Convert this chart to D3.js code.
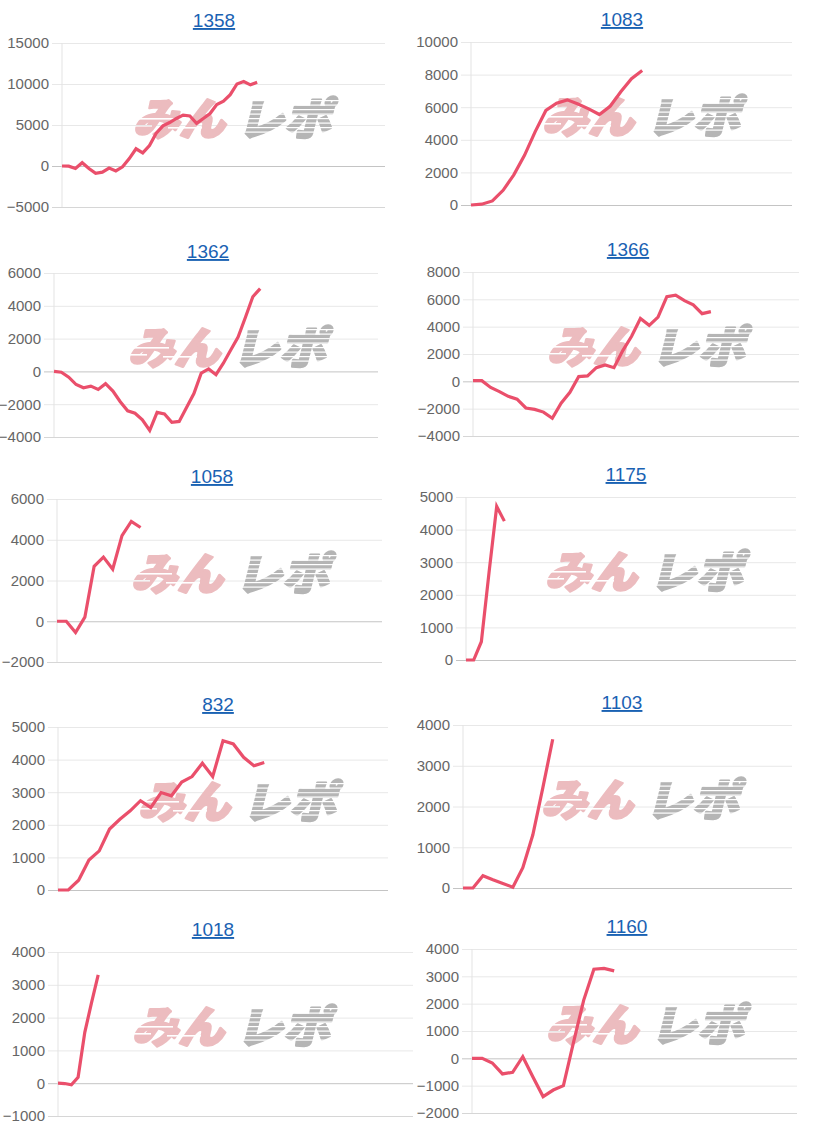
<!DOCTYPE html>
<html><head><meta charset="utf-8">
<script src="https://cdn.jsdelivr.net/npm/d3@7"></script>
<style>body{margin:0;background:#fff}</style>
</head><body><svg id="c" width="828" height="1135"></svg>
<script>
// ---- data ----
const titles = ["1358","1083","1362","1366","1058","1175","832","1103","1018","1160"];
const xSlots = [48,30,44,37,35,43,32,33,53,32];

const ticks1358 = [-5000,0,5000,10000,15000];
const ticks1083 = [0,2000,4000,6000,8000,10000];
const ticks1362 = [-4000,-2000,0,2000,4000,6000];
const ticks1366 = [-4000,-2000,0,2000,4000,6000,8000];
const ticks1058 = [-2000,0,2000,4000,6000];
const ticks1175 = [0,1000,2000,3000,4000,5000];
const ticks832  = [0,1000,2000,3000,4000,5000];
const ticks1103 = [0,1000,2000,3000,4000];
const ticks1018 = [-1000,0,1000,2000,3000,4000];
const ticks1160 = [-2000,-1000,0,1000,2000,3000,4000];

const s1358 = [0,-20,-300,400,-300,-900,-750,-250,-600,-100,900,2100,1600,2500,4000,4900,5300,5800,6200,6100,5200,5800,6400,7500,7900,8700,10000,10300,9900,10200];
const s1083 = [0,50,250,900,1850,3050,4500,5800,6250,6450,6200,5900,5550,6050,6950,7750,8250];
const s1362 = [0,-50,-350,-800,-1000,-900,-1100,-750,-1200,-1850,-2400,-2550,-2950,-3600,-2500,-2600,-3100,-3050,-2200,-1350,-100,150,-200,500,1300,2100,3300,4550,5050];
const s1366 = [50,50,-450,-750,-1100,-1300,-1950,-2050,-2250,-2700,-1600,-800,350,400,1000,1200,1000,2250,3300,4600,4100,4700,6200,6300,5900,5600,4950,5100];
const s1058 = [0,0,-550,200,2700,3150,2550,4200,4900,4600];
const s1175 = [0,0,560,2680,4710,4260];
const s832  = [0,0,300,920,1200,1870,2170,2430,2740,2530,2990,2890,3310,3480,3890,3480,4580,4480,4070,3810,3910];
const s1103 = [0,0,300,200,110,20,500,1300,2450,3650];
const s1018 = [0,-10,-50,180,1550,2450,3300];
const s1160 = [0,0,-170,-570,-510,60,-680,-1400,-1160,-1000,590,2130,3260,3290,3200];

const tickSets = [ticks1358,ticks1083,ticks1362,ticks1366,ticks1058,ticks1175,ticks832,ticks1103,ticks1018,ticks1160];
const seriesSets = [s1358,s1083,s1362,s1366,s1058,s1175,s832,s1103,s1018,s1160];

// ---- layout (plot rects, title & watermark anchors) ----
const layout = [
  {l:62, r:385, t:43,  b:207,  tx:214, ty:27,  wx:234, wy:115},
  {l:471,r:792, t:42,  b:205,  tx:622, ty:26,  wx:643, wy:113},
  {l:54, r:378, t:273, b:437,  tx:208, ty:258, wx:229, wy:344},
  {l:473,r:799, t:272, b:436,  tx:628, ty:256, wx:648, wy:343},
  {l:57, r:382, t:499, b:662,  tx:212, ty:483, wx:232, wy:570},
  {l:466,r:796, t:497, b:660,  tx:626, ty:481, wx:646, wy:568},
  {l:58, r:388, t:727, b:890,  tx:218, ty:711, wx:239, wy:798},
  {l:463,r:792, t:725, b:888,  tx:622, ty:709, wx:642, wy:796},
  {l:58, r:413, t:952, b:1116, tx:213, ty:936, wx:233, wy:1023},
  {l:472,r:797, t:949, b:1113, tx:627, ty:933, wx:647, wy:1021}
];

const svg = d3.select("#c");
const defs = svg.append("defs");

// stripe mask for the watermark logo
const mk = defs.append("mask").attr("id","wmMask").attr("maskUnits","userSpaceOnUse")
  .attr("x",-120).attr("y",-30).attr("width",240).attr("height",60);
mk.append("rect").attr("x",-120).attr("y",-30).attr("width",240).attr("height",60).attr("fill","#fff");
[[-100,3,40],[-104,10,22],[-66,12,34]].forEach(([x,y,w])=>{
  mk.append("rect").attr("x",x).attr("y",y).attr("width",w).attr("height",1.6).attr("fill","#000");
});
for (let y=-15; y<18; y+=4.5) {
  mk.append("rect").attr("x",2).attr("y",y).attr("width",110).attr("height",1.2).attr("fill","#000");
}

const font = "'Liberation Sans', Arial, Helvetica, sans-serif";
const cjk = "'Noto Sans CJK JP', sans-serif";

titles.forEach((title, i) => {
  const L = layout[i];
  const ticks = tickSets[i];
  const data = seriesSets[i];
  const x = d3.scaleLinear().domain([0, xSlots[i]]).range([L.l, L.r]);
  const y = d3.scaleLinear().domain(d3.extent(ticks)).range([L.b, L.t]);
  const g = svg.append("g");

  // title
  g.append("text").attr("x", L.tx).attr("y", L.ty)
    .attr("text-anchor","middle").attr("font-family",font).attr("font-size",19)
    .attr("fill","#1a62b3").style("text-decoration","underline").text(title);

  // y axis (grid lines + labels)
  const ax = d3.axisLeft(y).tickValues(ticks).tickFormat(d3.format("d"))
    .tickSize(-(L.r - L.l)).tickPadding(13);
  const ag = g.append("g").attr("transform",`translate(${L.l},0)`).call(ax);
  ag.select(".domain").remove();
  ag.selectAll(".tick line")
    .attr("x1", -10)
    .attr("stroke", d => d === 0 ? "#c4c4c4" : (d === ticks[0] ? "#d6d6d6" : "#e8e8e8"))
    .attr("stroke-width",1);
  ag.selectAll(".tick text").attr("font-family",font).attr("font-size",15).attr("fill","#666")
    .attr("x", -13);

  // left axis line
  g.append("line").attr("x1",L.l).attr("x2",L.l).attr("y1",L.t).attr("y2",L.b)
    .attr("stroke","#e3e3e3").attr("stroke-width",1);

  // watermark
  const wm = g.append("g").attr("transform",`translate(${L.wx},${L.wy})`);
  const wmInner = wm.append("g").attr("mask","url(#wmMask)");
  wmInner.append("text").attr("x",-4).attr("y",1)
    .attr("text-anchor","end").attr("dominant-baseline","central")
    .attr("font-family",cjk).attr("font-weight",900).attr("font-size",44)
    .attr("textLength",92).attr("lengthAdjust","spacingAndGlyphs")
    .attr("transform","skewX(-14)")
    .attr("fill","#ecbcbf").attr("stroke","#ecbcbf").attr("stroke-width",2.5).attr("stroke-linejoin","round")
    .text("みん");
  wmInner.append("text").attr("x",8).attr("y",1)
    .attr("text-anchor","start").attr("dominant-baseline","central")
    .attr("font-family",cjk).attr("font-weight",900).attr("font-size",44)
    .attr("textLength",94).attr("lengthAdjust","spacingAndGlyphs")
    .attr("transform","skewX(-14)")
    .attr("fill","#b5b5b5").attr("stroke","#b5b5b5").attr("stroke-width",2.5).attr("stroke-linejoin","round")
    .text("レポ");

  // line
  const line = d3.line().x((d,j) => x(j)).y(d => y(d));
  g.append("path").datum(data).attr("d", line)
    .attr("fill","none").attr("stroke","#ea4f6b").attr("stroke-width",3.2)
    .attr("stroke-linejoin","miter").attr("stroke-linecap","butt");
});
</script>
</body></html>
